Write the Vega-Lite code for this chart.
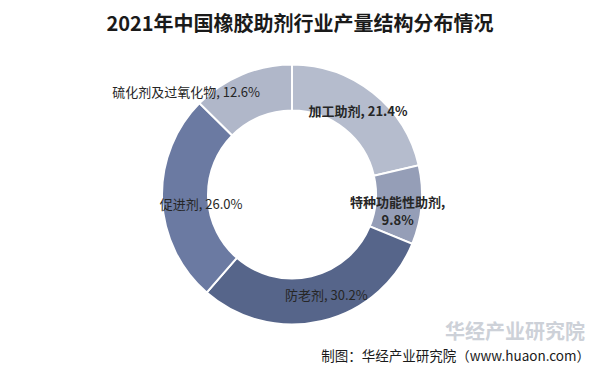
{
  "$schema": "https://vega.github.io/schema/vega-lite/v6.json",
  "width": 600,
  "height": 378,
  "autosize": {"type": "fit", "contains": "padding"},
  "padding": {"left": 5, "top": 4, "right": 5, "bottom": 5},
  "background": "white",
  "config": {"view": {"stroke": "#8c8c8c", "strokeWidth": 1.5}},
  "title": {
    "text": "2021年中国橡胶助剂行业产量结构分布情况",
    "font": "Noto Sans CJK SC",
    "fontSize": 20,
    "fontWeight": "bold",
    "color": "#1a1a1a",
    "offset": -31,
    "anchor": "middle"
  },
  "data": {
    "values": [
      {"cat": "加工助剂", "value": 21.4, "order": 1, "label": "加工助剂, 21.4%"},
      {"cat": "特种功能性助剂", "value": 9.8, "order": 2, "label": "特种功能性助剂,\n9.8%"},
      {"cat": "防老剂", "value": 30.2, "order": 3, "label": "防老剂, 30.2%"},
      {"cat": "促进剂", "value": 26.0, "order": 4, "label": "促进剂, 26.0%"},
      {"cat": "硫化剂及过氧化物", "value": 12.6, "order": 5, "label": "硫化剂及过氧化物, 12.6%"}
    ]
  },
  "encoding": {
    "theta": {"field": "value", "type": "quantitative", "stack": true},
    "order": {"field": "order", "type": "quantitative"}
  },
  "layer": [
    {
      "mark": {"type": "arc", "outerRadius": 130, "innerRadius": 84, "stroke": "white", "strokeWidth": 2, "xOffset": -8, "yOffset": 6},
      "encoding": {
        "color": {
          "field": "cat",
          "type": "nominal",
          "scale": {
            "domain": ["加工助剂", "特种功能性助剂", "防老剂", "促进剂", "硫化剂及过氧化物"],
            "range": ["#b5bccd", "#959eb7", "#56658a", "#6b7aa2", "#b0b7c9"]
          },
          "legend": null
        }
      }
    },
    {
      "mark": {"type": "text", "radius": 106, "xOffset": -8, "yOffset": 6, "font": "Noto Sans CJK SC", "fontSize": 13, "fontWeight": "bold", "color": "#262626", "lineBreak": "\n", "lineHeight": 18},
      "encoding": {
        "text": {"condition": {"test": "datum.order <= 2", "field": "label"}, "value": ""}
      }
    },
    {
      "mark": {"type": "text", "radius": 106, "xOffset": 2, "yOffset": 4, "font": "Noto Sans CJK SC", "fontSize": 13, "color": "#262626"},
      "encoding": {
        "text": {"condition": {"test": "datum.order == 3", "field": "label"}, "value": ""}
      }
    },
    {
      "mark": {"type": "text", "radius": 106, "xOffset": 7, "yOffset": 13, "font": "Noto Sans CJK SC", "fontSize": 13, "color": "#262626"},
      "encoding": {
        "text": {"condition": {"test": "datum.order == 4", "field": "label"}, "value": ""}
      }
    },
    {
      "mark": {"type": "text", "radius": 106, "xOffset": -73, "yOffset": 2, "font": "Noto Sans CJK SC", "fontSize": 13, "color": "#262626"},
      "encoding": {
        "text": {"condition": {"test": "datum.order == 5", "field": "label"}, "value": ""}
      }
    },
    {
      "data": {"values": [{"t": "华经产业研究院"}]},
      "mark": {"type": "text", "align": "right", "baseline": "middle", "x": {"expr": "width - 10"}, "y": {"expr": "height - 40"}, "font": "Noto Sans CJK SC", "fontSize": 20, "fontWeight": "bold", "color": "#cdd1d8"},
      "encoding": {"text": {"field": "t"}, "theta": null, "order": null}
    },
    {
      "data": {"values": [{"t": "制图：华经产业研究院（www.huaon.com）"}]},
      "mark": {"type": "text", "align": "right", "baseline": "middle", "x": {"expr": "width - 5"}, "y": {"expr": "height - 16"}, "font": "Noto Sans CJK SC", "fontSize": 13.5, "color": "#1a1a1a"},
      "encoding": {"text": {"field": "t"}, "theta": null, "order": null}
    }
  ]
}
